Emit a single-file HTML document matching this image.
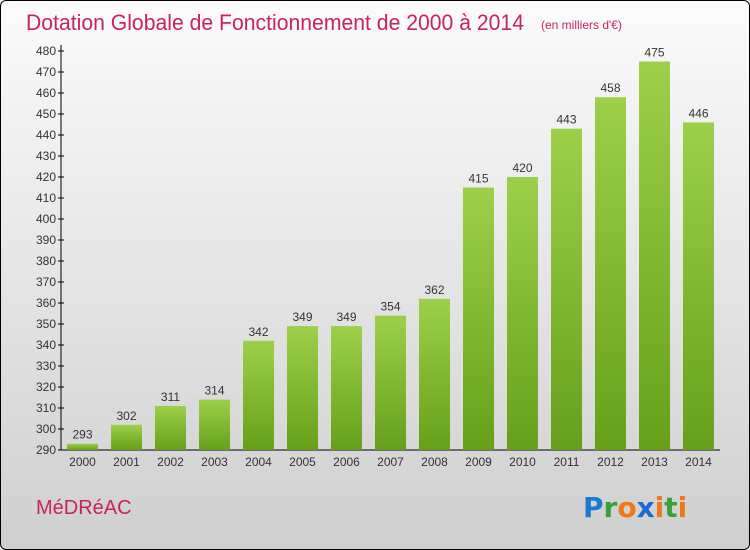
<!DOCTYPE html>
<html><head><meta charset="utf-8"><style>
body{margin:0;width:750px;height:550px;overflow:hidden;font-family:"Liberation Sans",sans-serif}
#frame{position:absolute;left:0;top:0;width:748px;height:548px;border:1px solid #000;border-radius:6px;background:linear-gradient(#fbfbfb,#f0f0f0 25%,#cfcfcf)}
</style></head><body>
<div id="frame">
<svg width="750" height="550" style="position:absolute;left:-1px;top:-1px" id="svg">
<defs><linearGradient id="bg" x1="0" y1="0" x2="0" y2="1"><stop offset="0" stop-color="#9cd04a"/><stop offset="1" stop-color="#66a01a"/></linearGradient></defs>
<text x="26" y="30" font-size="22" fill="#c8245a" style="font-weight:300" textLength="498" lengthAdjust="spacingAndGlyphs">Dotation Globale de Fonctionnement de 2000 à 2014</text>
<text x="541" y="29" font-size="12" fill="#c8245a">(en milliers d'€)</text>
<g id="yaxis"></g>
<g id="bars"></g>
<text x="36" y="514" font-size="20" fill="#c8245a">MéDRéAC</text>
<g font-size="28" font-weight="bold" font-family="'DejaVu Sans',sans-serif">
<text x="583" y="517"><tspan fill="#1a7ad0">P</tspan><tspan fill="#3aa03a">r</tspan><tspan fill="#f07818">o</tspan><tspan fill="#1a6ad0">x</tspan><tspan fill="#f07818">i</tspan><tspan fill="#3aa03a">t</tspan><tspan fill="#f07818">i</tspan></text></g>
</svg></div>
<script>
const years=["2000","2001","2002","2003","2004","2005","2006","2007","2008","2009","2010","2011","2012","2013","2014"];
const values=[293,302,311,314,342,349,349,354,362,415,420,443,458,475,446];
const yTicks=[290,300,310,320,330,340,350,360,370,380,390,400,410,420,430,440,450,460,470,480];
const ns="http://www.w3.org/2000/svg";
const y0=290,y1=480,py0=450,py1=51;
const ys=v=>py0-(v-y0)*(py0-py1)/(y1-y0);
const xs=i=>82.5+i*44;
function mk(t,a,p){const e=document.createElementNS(ns,t);for(const k in a)e.setAttribute(k,a[k]);p.appendChild(e);return e;}
const ya=document.getElementById('yaxis'),bg=document.getElementById('bars');
mk('line',{x1:61,y1:45,x2:61,y2:450,stroke:'#000'},ya);
mk('line',{x1:61,y1:450,x2:720,y2:450,stroke:'#000'},ya);
yTicks.forEach(t=>{const y=ys(t);
const l=mk('line',{x1:58,y1:y,x2:64,y2:y,stroke:'#000'},ya);


const tx=mk('text',{x:56,y:y+4,'font-size':12,fill:'#333','text-anchor':'end'},ya);tx.textContent=t;

});
years.forEach((yr,i)=>{const x=xs(i),top=ys(values[i]);
const r=mk('rect',{x:x-15.5,y:top,width:31,height:py0-top,fill:'url(#bg)'},bg);


const v=mk('text',{x:x,y:top-5,'font-size':12,fill:'#333','text-anchor':'middle'},bg);v.textContent=values[i];


const l=mk('text',{x:x,y:466,'font-size':12,fill:'#333','text-anchor':'middle'},bg);l.textContent=yr;

});
</script>
</body></html>
